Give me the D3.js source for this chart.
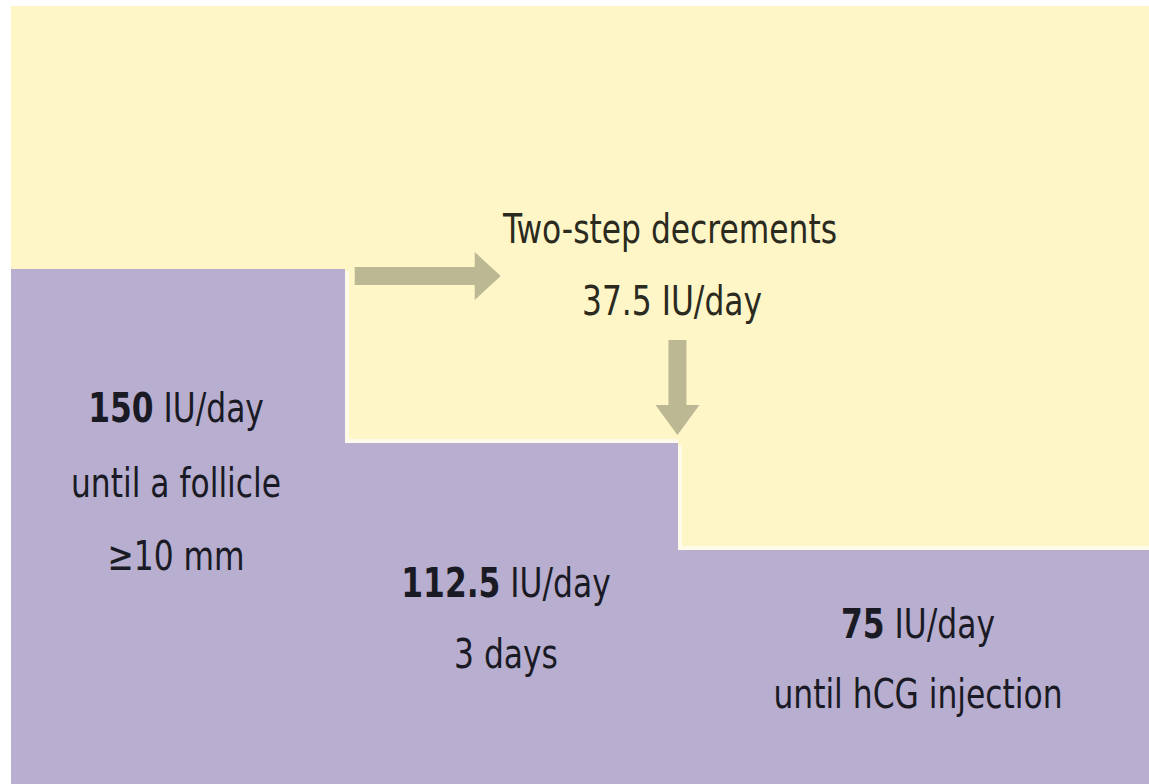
<!DOCTYPE html>
<html><head><meta charset="utf-8">
<script src="https://cdn.jsdelivr.net/npm/d3@7"></script>
<style>body{margin:0;background:#fff;}svg{display:block;}</style>
</head><body>
<script>
// Data
const phases = ["start", "decrement1", "decrement2"];
const doses = [150, 112.5, 75];
const doseUnits = ["IU/day", "IU/day", "IU/day"];
const durations = ["until a follicle", "3 days", "until hCG injection"];
const extra = ["≥10 mm", "", ""];
const phaseBounds = [0, 1, 2, 3.41];
const stepTitle = "Two-step decrements";
const stepSize = "37.5 IU/day";

const W = 1149, H = 784;
const svg = d3.select("body").append("svg").attr("width", W).attr("height", H);
const font = "'DejaVu Sans Condensed','Liberation Sans Narrow',sans-serif";
const FS = 41, SX = 0.85;

const x = d3.scaleLinear().domain([0, 3.41]).range([11, 1149]);
const yTop = d3.scaleOrdinal().domain(doses).range([269, 443, 550]);
const yBottom = 784;

// background
svg.append("rect").attr("x", 11).attr("y", 6).attr("width", W - 11).attr("height", H - 6).attr("fill", "#FFF6C8");

// steps (each extends to the left edge so no seams)
const steps = phases.map((p, i) => ({p, dose: doses[i], x0: phaseBounds[i], x1: phaseBounds[i + 1]}));
svg.selectAll("rect.step").data(steps).join("rect").attr("class", "step")
  .attr("x", x(0)).attr("y", d => yTop(d.dose))
  .attr("width", d => Math.round(x(d.x1)) - x(0)).attr("height", d => yBottom - yTop(d.dose))
  .attr("fill", "#B7AED0");

// light edges where yellow meets purple
const edge = d3.path();
steps.forEach((d, i) => {
  if (i > 0) {
    const ex = Math.round(x(d.x0)) + 2;
    edge.moveTo(ex, yTop(steps[i - 1].dose) + 2);
    edge.lineTo(ex, yTop(d.dose) - 2);
    edge.lineTo(x(d.x1), yTop(d.dose) - 2);
  }
});
svg.append("path").attr("d", edge.toString()).attr("fill", "none").attr("stroke", "#FFFBEA").attr("stroke-width", 4);

// arrows
const arrowColor = "#BDB894";
const hx0 = x(phaseBounds[1]) + 10, hy = yTop(doses[0]) + 7;
svg.append("path").attr("fill", arrowColor).attr("d",
  `M${hx0},${hy - 9}L${hx0 + 120},${hy - 9}L${hx0 + 120},${hy - 24}L${hx0 + 146},${hy}L${hx0 + 120},${hy + 24}L${hx0 + 120},${hy + 9}L${hx0},${hy + 9}Z`);
const vx = x(phaseBounds[2]) - 1, vy0 = 340, vy1 = yTop(doses[1]) - 8;
svg.append("path").attr("fill", arrowColor).attr("d",
  `M${vx - 9},${vy0}L${vx + 9},${vy0}L${vx + 9},${vy1 - 30}L${vx + 22},${vy1 - 30}L${vx},${vy1}L${vx - 22},${vy1 - 30}L${vx - 9},${vy1 - 30}Z`);

// text
const mk = (cx, y) => svg.append("text").attr("transform", `translate(${cx},${y}) scale(${SX},1)`)
  .attr("text-anchor", "middle").attr("font-family", font).attr("font-size", FS).attr("fill", "#1a1a24");
const txt = (t, cx, y) => mk(cx, y).text(t);
txt(stepTitle, 670, 243).attr("fill", "#2a2a1e");
txt(stepSize, 672, 315).attr("fill", "#2a2a1e");

const labelX = [176, 506, 918];
const labelY = [[422, 497, 570], [597, 668], [638, 708]];
steps.forEach((d, i) => {
  const t = mk(labelX[i], labelY[i][0]);
  t.append("tspan").attr("font-weight", "bold").text(d.dose);
  t.append("tspan").text(" " + doseUnits[i]);
  txt(durations[i], labelX[i], labelY[i][1]);
  if (extra[i]) txt(extra[i], labelX[i], labelY[i][2]);
});
</script>
</body></html>
